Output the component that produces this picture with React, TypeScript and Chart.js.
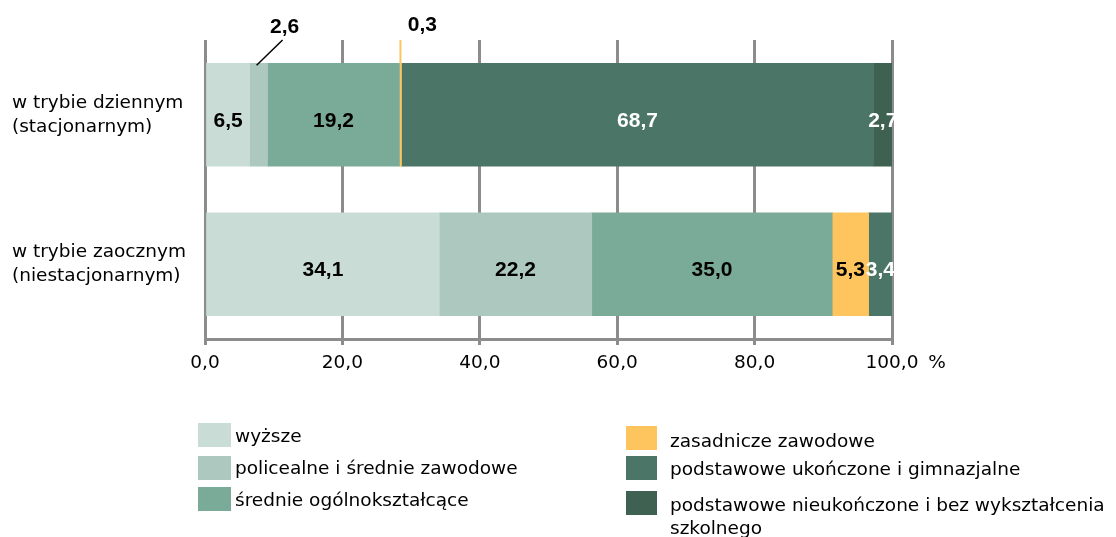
import React, { useEffect, useRef } from "react";
import { Chart, registerables } from "chart.js";

Chart.register(...registerables);

const categories: string[][] = [
  ["w trybie dziennym", "(stacjonarnym)"],
  ["w trybie zaocznym", "(niestacjonarnym)"],
];

const seriesNames = [
  "wyższe",
  "policealne i średnie zawodowe",
  "średnie ogólnokształcące",
  "zasadnicze zawodowe",
  "podstawowe ukończone i gimnazjalne",
  "podstawowe nieukończone i bez wykształcenia szkolnego",
];

const wyzsze = [6.5, 34.1];
const policealne = [2.6, 22.2];
const srednieOgolne = [19.2, 35.0];
const zasadnicze = [0.3, 5.3];
const podstawoweUkonczone = [68.7, 3.4];
const podstawoweNieukonczone = [2.7, 0];

const seriesValues = [wyzsze, policealne, srednieOgolne, zasadnicze, podstawoweUkonczone, podstawoweNieukonczone];
const seriesColors = ["#c9ddd6", "#adc8bf", "#7aaa98", "#fec55e", "#4b7567", "#3e6152"];
const labelColors = ["#000000", "#000000", "#000000", "#000000", "#ffffff", "#ffffff"];

const xTicks = [0, 20, 40, 60, 80, 100];
const unitLabel = "%";

const FONT = '"DejaVu Sans", sans-serif';
const fmt = (v: number) => v.toFixed(1).replace(".", ",");

const dataLabelPlugin = {
  id: "dataLabels",
  afterDatasetsDraw(chart: any) {
    const ctx = chart.ctx;
    const area = chart.chartArea;
    ctx.save();
    chart.data.datasets.forEach((ds: any, i: number) => {
      const meta = chart.getDatasetMeta(i);
      meta.data.forEach((el: any, j: number) => {
        const v = ds.data[j];
        if (!v) return;
        const { x, y, base, height } = el.getProps(["x", "y", "base", "height"], true);
        const cx = (x + base) / 2;
        const barTop = y - height / 2;
        ctx.font = 'bold 21px "Liberation Sans", Arial, sans-serif';
        ctx.textAlign = "center";
        ctx.textBaseline = "middle";
        const dark = labelColors[i] === "#000000";
        if (v < 3 && dark) {
          if (v < 1) {
            ctx.strokeStyle = seriesColors[i];
            ctx.lineWidth = 2;
            ctx.beginPath();
            ctx.moveTo(cx, area.top);
            ctx.lineTo(cx, barTop);
            ctx.stroke();
            ctx.fillStyle = "#000";
            ctx.fillText(fmt(v), cx + 22, area.top - 15);
          } else {
            ctx.strokeStyle = "#000";
            ctx.lineWidth = 1.5;
            ctx.beginPath();
            ctx.moveTo(cx + 24, area.top);
            ctx.lineTo(cx - 2, barTop + 2);
            ctx.stroke();
            ctx.fillStyle = "#000";
            ctx.fillText(fmt(v), cx + 26, area.top - 13);
          }
        } else {
          ctx.fillStyle = labelColors[i];
          ctx.fillText(fmt(v), cx, y + 6);
        }
      });
    });
    const xs = chart.scales.x;
    ctx.font = `18.5px ${FONT}`;
    ctx.fillStyle = "#000";
    ctx.textAlign = "center";
    ctx.textBaseline = "middle";
    ctx.fillText(unitLabel, xs.getPixelForValue(xTicks[xTicks.length - 1]) + 45, area.bottom + 24);
    ctx.restore();
  },
};

const legendLeft = [0, 1, 2];
const legendRight = [3, 4, 5];

function App() {
  const ref = useRef<HTMLCanvasElement | null>(null);

  useEffect(() => {
    if (!ref.current) return;
    const chart = new Chart(ref.current, {
      type: "bar",
      data: {
        labels: categories as any,
        datasets: seriesValues.map((vals, i) => ({
          label: seriesNames[i],
          data: vals,
          backgroundColor: seriesColors[i],
          borderWidth: 0,
          barThickness: 103,
        })),
      },
      options: {
        indexAxis: "y",
        responsive: false,
        animation: false,
        devicePixelRatio: 1,
        layout: { padding: { left: 12, top: 40, right: 224, bottom: 158 } },
        plugins: { legend: { display: false }, tooltip: { enabled: false } },
        scales: {
          x: {
            stacked: true,
            min: 0,
            max: 100,
            afterBuildTicks: (scale: any) => {
              scale.ticks = xTicks.map((v) => ({ value: v }));
            },
            afterFit: (scale: any) => {
              scale.height = 40;
            },
            grid: { display: true, color: "#8c8c8c", lineWidth: 3, drawTicks: true, tickLength: 6 },
            border: { display: true, color: "#8c8c8c", width: 3 },
            ticks: {
              padding: 7,
              color: "#000",
              font: { family: FONT, size: 18.5 },
              callback: (v: any) => fmt(Number(v)),
              maxRotation: 0,
            },
          },
          y: {
            stacked: true,
            afterFit: (scale: any) => {
              scale.width = 193;
            },
            grid: { display: false },
            border: { display: false },
            ticks: {
              crossAlign: "far",
              padding: 0,
              color: "#000",
              font: { family: FONT, size: 18.5, lineHeight: 1.3 },
            },
          },
        },
      },
      plugins: [dataLabelPlugin],
    } as any);
    return () => chart.destroy();
  }, []);

  const textStyle: React.CSSProperties = {
    position: "absolute",
    fontFamily: FONT,
    fontSize: "18.5px",
    lineHeight: "23px",
    color: "#000",
    whiteSpace: "nowrap",
  };

  const leftRows = [423, 456, 487];
  const leftTextCenters = [435, 467, 499];
  const rightRows = [426, 456, 491];
  const rightTextCenters = [440, 468, 504];

  return (
    <div style={{ position: "absolute", left: 0, top: 0, width: 1116, height: 537, background: "#fff" }}>
      <canvas ref={ref} width={1116} height={537} style={{ position: "absolute", left: 0, top: 0, width: 1116, height: 537 }} />
      {legendLeft.map((si, k) => (
        <React.Fragment key={"l" + si}>
          <div style={{ position: "absolute", left: 198, top: leftRows[k], width: 33, height: 24, background: seriesColors[si] }} />
          <div style={{ ...textStyle, left: 235, top: leftTextCenters[k] - 11.5 }}>{seriesNames[si]}</div>
        </React.Fragment>
      ))}
      {legendRight.map((si, k) => (
        <React.Fragment key={"r" + si}>
          <div style={{ position: "absolute", left: 626, top: rightRows[k], width: 31, height: 24, background: seriesColors[si] }} />
          <div style={{ ...textStyle, left: 670, top: rightTextCenters[k] - 11.5, width: 440, whiteSpace: "normal" }}>
            {seriesNames[si]}
          </div>
        </React.Fragment>
      ))}
    </div>
  );
}

export default App;
